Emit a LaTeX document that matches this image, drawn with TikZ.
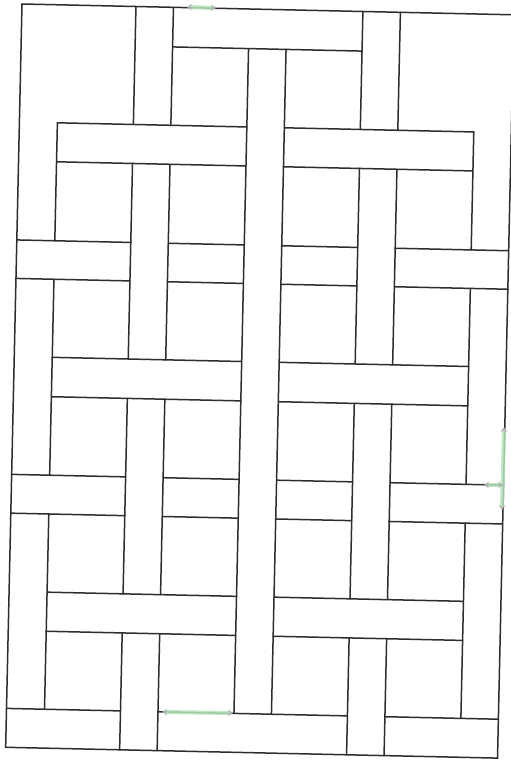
\documentclass[tikz,border=0pt]{standalone}
\usetikzlibrary{arrows.meta}

\definecolor{pencil}{RGB}{45,45,45}
\definecolor{marker}{RGB}{180,228,186}

\tikzset{
  bar/.style={draw=pencil, line width=1.5pt, line cap=round},
  markarrow/.style={draw=marker, line width=4pt, opacity=0.85,
    {Stealth[length=5pt,width=7pt,color=gray!60]}-{Stealth[length=5pt,width=7pt,color=gray!60]}}
}

\begin{document}
\begin{tikzpicture}[x=1pt, y=-1pt]
    \useasboundingbox (0,0) rectangle (511,760);
    \fill[white] (0,0) rectangle (511,760);

    % Woven bars, drawn in the frame of the (slightly turned) sheet
    \begin{scope}[shift={(22,4)}, rotate=-1.26]
      % Frame
      \draw[bar] (0,0) rectangle (492,743.5);

      % Row 0 (top)
      \draw[bar] (151.5,39.6) -- (341,39.6);

      % Rows 1, 3 and 5: two long bars
      \draw[bar] (38,118) -- (227.5,118) (265,118) -- (454.5,118);
      \draw[bar] (38,157) -- (227.5,157) (265,157) -- (454.5,157);
      \draw[bar] (38,352.6) -- (227.5,352.6) (265,352.6) -- (454.5,352.6);
      \draw[bar] (38,392) -- (227.5,392) (265,392) -- (454.5,392);
      \draw[bar] (38,587.5) -- (227.5,587.5) (265,587.5) -- (454.5,587.5);
      \draw[bar] (38,626.6) -- (227.5,626.6) (265,626.6) -- (454.5,626.6);

      % Rows 2 and 4: four short bars
      \draw[bar] (0,236) -- (114,236) (151.5,236) -- (227.5,236)
                 (265,236) -- (341,236) (378.5,236) -- (492,236);
      \draw[bar] (0,274.5) -- (114,274.5) (151.5,274.5) -- (227.5,274.5)
                 (265,274.5) -- (341,274.5) (378.5,274.5) -- (492,274.5);
      \draw[bar] (0,470.5) -- (114,470.5) (151.5,470.5) -- (227.5,470.5)
                 (265,470.5) -- (341,470.5) (378.5,470.5) -- (492,470.5);
      \draw[bar] (0,509.3) -- (114,509.3) (151.5,509.3) -- (227.5,509.3)
                 (265,509.3) -- (341,509.3) (378.5,509.3) -- (492,509.3);

      % Row 6 (bottom)
      \draw[bar] (0,704.6) -- (114,704.6) (151.5,704.6) -- (341,704.6)
                 (378.5,704.6) -- (492,704.6);

      % Outer columns
      \draw[bar] (38,118) -- (38,236) (38,274.5) -- (38,470.5) (38,509.3) -- (38,704.6);
      \draw[bar] (454.5,118) -- (454.5,236) (454.5,274.5) -- (454.5,470.5)
                 (454.5,509.3) -- (454.5,704.6);

      % Columns 1 and 3
      \draw[bar] (114,0) -- (114,118) (114,157) -- (114,352.6)
                 (114,392) -- (114,587.5) (114,626.6) -- (114,743.5);
      \draw[bar] (151.5,0) -- (151.5,118) (151.5,157) -- (151.5,352.6)
                 (151.5,392) -- (151.5,587.5) (151.5,626.6) -- (151.5,743.5);
      \draw[bar] (341,0) -- (341,118) (341,157) -- (341,352.6)
                 (341,392) -- (341,587.5) (341,626.6) -- (341,743.5);
      \draw[bar] (378.5,0) -- (378.5,118) (378.5,157) -- (378.5,352.6)
                 (378.5,392) -- (378.5,587.5) (378.5,626.6) -- (378.5,743.5);

      % Long middle bar
      \draw[bar] (227.5,39.6) -- (227.5,704.6);
      \draw[bar] (265,39.6) -- (265,704.6);
    \end{scope}

    % Green marker arrows
    \draw[markarrow] (187,7) -- (216,8);
    \draw[markarrow] (162,712) -- (233,713);
    \draw[markarrow] (504,427) -- (502,510);
    \draw[markarrow] (484,485) -- (503,485);
\end{tikzpicture}
\end{document}
